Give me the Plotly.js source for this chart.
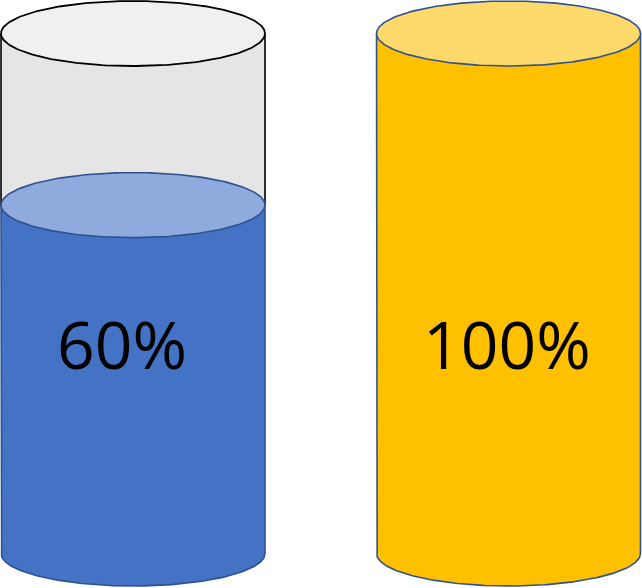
<!DOCTYPE html>
<html>
<head>
<meta charset="utf-8">
<script src="https://cdn.plot.ly/plotly-3.0.1.min.js"></script>
<style>html,body{margin:0;padding:0;background:#fff;}#chart{width:642px;height:588px;}</style>
</head>
<body>
<div id="chart"></div>
<script>
// ---- data ----
const categories = ['A', 'B'];
const labels = ['60%', '100%'];
const fillLevels = [67, 100];          // visual fill level (% of cylinder height)
const liquidColors = ['#4472c4', '#ffc000'];
const liquidTopColors = ['#8faadc', '#fdd86a'];

// ---- style / geometry ----
const FULL = 100;
const RX = 0.3515;     // ellipse half-width in x units
const RY = 6.25;       // ellipse half-height in y units
const EDGE = '#2f528f';
const GLASS = '#e5e5e5';
const GLASS_TOP = '#f0f0f0';
const labelXShift = [-11.5, -2];
const labelY = 40.4;

function arc(cx, cy, t0, t1, n) {
  const xs = [], ys = [];
  for (let k = 0; k <= n; k++) {
    const t = t0 + (t1 - t0) * k / n;
    xs.push(cx + RX * Math.cos(t));
    ys.push(cy + RY * Math.sin(t));
  }
  return [xs, ys];
}

const traces = [];
const common = {type: 'scatter', mode: 'lines', hoverinfo: 'skip', showlegend: false};

categories.forEach((c, i) => {
  const L = fillLevels[i];
  const cx = i;
  if (L < FULL) {
    const [bx, by] = arc(cx, 0, Math.PI, 2 * Math.PI, 120);
    traces.push(Object.assign({}, common, {
      x: [cx - RX].concat(bx, [cx + RX, cx - RX]),
      y: [FULL].concat(by, [FULL, FULL]),
      fill: 'toself', fillcolor: GLASS, line: {width: 0, color: GLASS}
    }));
    traces.push(Object.assign({}, common, {
      x: [cx - RX, cx - RX, null, cx + RX, cx + RX],
      y: [L, FULL, null, L, FULL],
      line: {color: '#000', width: 1.6}
    }));
  }
  const [lx, ly] = arc(cx, 0, Math.PI, 2 * Math.PI, 160);
  traces.push(Object.assign({}, common, {
    x: [cx - RX].concat(lx, [cx + RX, cx - RX]),
    y: [L].concat(ly, [L, L]),
    fill: 'toself', fillcolor: liquidColors[i], line: {width: 1.6, color: EDGE}
  }));
  const [tx, ty] = arc(cx, L, 0, 2 * Math.PI, 240);
  traces.push(Object.assign({}, common, {
    x: tx, y: ty, fill: 'toself', fillcolor: liquidTopColors[i],
    line: {width: 1.6, color: EDGE}
  }));
  if (L < FULL) {
    const [gx, gy] = arc(cx, FULL, 0, 2 * Math.PI, 240);
    traces.push(Object.assign({}, common, {
      x: gx, y: gy, fill: 'toself', fillcolor: GLASS_TOP,
      line: {width: 1.8, color: '#000'}
    }));
  }
});

const annotations = categories.map((c, i) => ({
  x: i, y: labelY, xref: 'x', yref: 'y', text: labels[i], showarrow: false,
  xshift: labelXShift[i], xanchor: 'center', yanchor: 'middle',
  font: {family: 'Open Sans, sans-serif', size: 66, color: '#000'}
}));

const layout = {
  width: 642, height: 588,
  margin: {l: 0, r: 0, t: 0, b: 0, pad: 0},
  paper_bgcolor: '#fff', plot_bgcolor: '#fff',
  xaxis: {range: [-0.3542, 1.3555], visible: false, fixedrange: true},
  yaxis: {range: [-6.635, 106.442], visible: false, fixedrange: true},
  annotations: annotations,
  showlegend: false
};

Plotly.newPlot('chart', traces, layout, {displayModeBar: false, staticPlot: true});
</script>
</body>
</html>
